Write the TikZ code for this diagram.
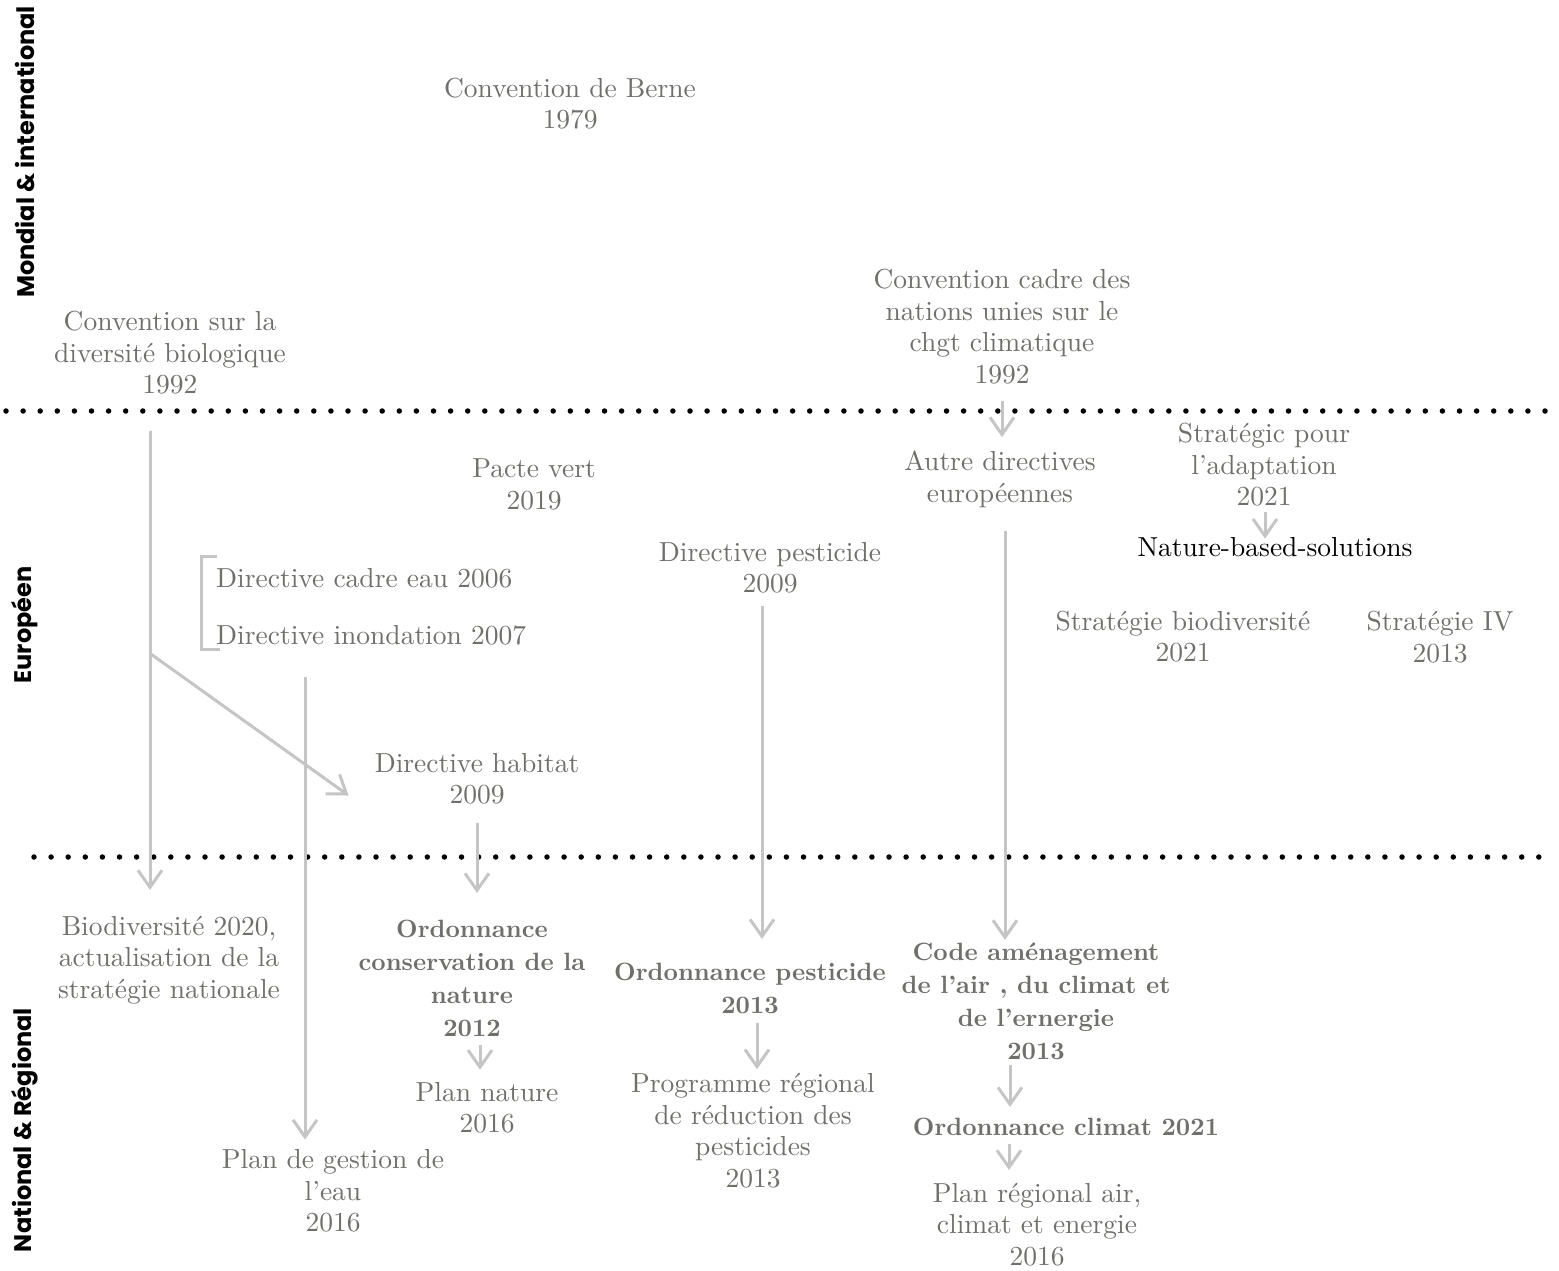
\documentclass[tikz,border=0pt]{standalone}
\usepackage{fontspec}
\setmainfont{lmroman10-regular.otf}[BoldFont=lmroman10-bold.otf]
\newfontfamily\labfont{Poppins}
\usetikzlibrary{arrows.meta}
\definecolor{tgrey}{HTML}{6F6F6B}
\definecolor{agrey}{HTML}{C5C5C5}
\tikzset{
  txt/.style={font=\fontsize{27.5}{31.5}\selectfont, text=tgrey, align=center, inner sep=0pt},
  btxt/.style={font=\fontsize{25}{33}\selectfont\bfseries, text=tgrey, align=center, inner sep=0pt},
  lab/.style={font=\labfont\bfseries\fontsize{24}{28}\selectfont, text=black, rotate=90, inner sep=0pt},
  arr/.style={draw=agrey, line width=3pt, -{Straight Barb[length=17pt,width=24pt]}},
  brk/.style={draw=agrey, line width=3pt},
  dotline/.style={line width=5.5pt, line cap=round, dash pattern=on 0pt off 17.1pt}
}
\begin{document}
\begin{tikzpicture}[x=1pt,y=-1pt]
\useasboundingbox[fill=white] (0,0) rectangle (1559,1270);

% separators
\draw[dotline] (6,411) -- (1555,411);
\draw[dotline] (34,857) -- (1555,857);

% side labels
\node[lab] (lmond) at (25,152) {Mondial \& international};
\node[lab] (leur) at (25,625) {Européen};
\node[lab] (lnat) at (25,1130) {National \& Régional};

% mondial
\node[txt] (berne) at (570,103.5) {Convention de Berne\\1979};
\node[txt] (cbd) at (170,353) {Convention sur la\\diversité biologique\\1992};
\node[txt] (unfccc) at (1002,326.5) {Convention cadre des\\nations unies sur le\\chgt climatique\\1992};

% europeen
\node[txt] (pacte) at (534,484.5) {Pacte vert\\2019};
\node[txt] (autre) at (1000,479.5) {Autre directives\\européennes};
\node[txt] (strat) at (1264,465) {Stratégic pour\\l’adaptation\\2021};
\node[txt, text=black] (nbs) at (1275,547) {Nature-based-solutions};
\node[txt] (dpest) at (770,567.5) {Directive pesticide\\2009};
\node[txt, anchor=west] (dce) at (216,578) {Directive cadre eau 2006};
\node[txt, anchor=west] (dinond) at (216,635) {Directive inondation 2007};
\node[txt] (sbio) at (1183,636.5) {Stratégie biodiversité\\2021};
\node[txt] (s4) at (1440,637) {Stratégie IV\\2013};
\node[txt] (dhab) at (477,778.5) {Directive habitat\\2009};

% national
\node[txt] (bio) at (169,960) {Biodiversité 2020,\\actualisation de la\\stratégie nationale};
\node[btxt] (ordcons) at (472,978.5) {Ordonnance\\conservation de la\\nature\\2012};
\node[txt] (plannat) at (487,1107.5) {Plan nature\\2016};
\node[txt] (plangest) at (333,1191) {Plan de gestion de\\l’eau\\2016};
\node[btxt] (ordpest) at (750,988.5) {Ordonnance pesticide\\2013};
\node[txt] (prog) at (753,1130.5) {Programme régional\\de réduction des\\pesticides\\2013};
\node[btxt] (code) at (1036,1001.5) {Code aménagement\\de l’air , du climat et\\de l’ernergie\\2013};
\node[btxt] (ordclim) at (1066,1127) {Ordonnance climat 2021};
\node[txt] (planreg) at (1037,1224.5) {Plan régional air,\\climat et energie\\2016};

% bracket
\draw[brk] ([shift={(1,-22)}]dce.west) -- ++(-16,0) |- ([shift={(4,14)}]dinond.west);

% connectors
\draw[arr] ([shift={(-20,36)}]cbd.south) -- coordinate[pos=0.485] (branch) ([shift={(-19,-26)}]bio.north);
\draw[arr] (branch) -- ([shift={(-26,17)}]dhab.west);
\draw[arr] ([shift={(89,42)}]dinond.west) -- ([shift={(-28,-10)}]plangest.north);
\draw[arr] ([shift={(0,19)}]dhab.south) -- ([shift={(5,-27)}]ordcons.north);
\draw[arr] ([shift={(8,8)}]ordcons.south) -- ([shift={(-7,-12)}]plannat.north);
\draw[arr] ([shift={(-8,13)}]dpest.south) -- ([shift={(12,-24)}]ordpest.north);
\draw[arr] ([shift={(7,9)}]ordpest.south) -- ([shift={(4,-4)}]prog.north);
\draw[arr] ([shift={(0,17)}]unfccc.south) -- ([shift={(2,-14)}]autre.north);
\draw[arr] ([shift={(5,23)}]autre.south) -- ([shift={(-31,-3)}]code.north);
\draw[arr] ([shift={(-26,5)}]code.south) -- ([shift={(-56,-11)}]ordclim.north);
\draw[arr] ([shift={(-57,8)}]ordclim.south) -- ([shift={(-28,-13)}]planreg.north);
\draw[arr] ([shift={(1,5)}]strat.south) -- ([shift={(-10,1.5)}]nbs.north);
\end{tikzpicture}
\end{document}
